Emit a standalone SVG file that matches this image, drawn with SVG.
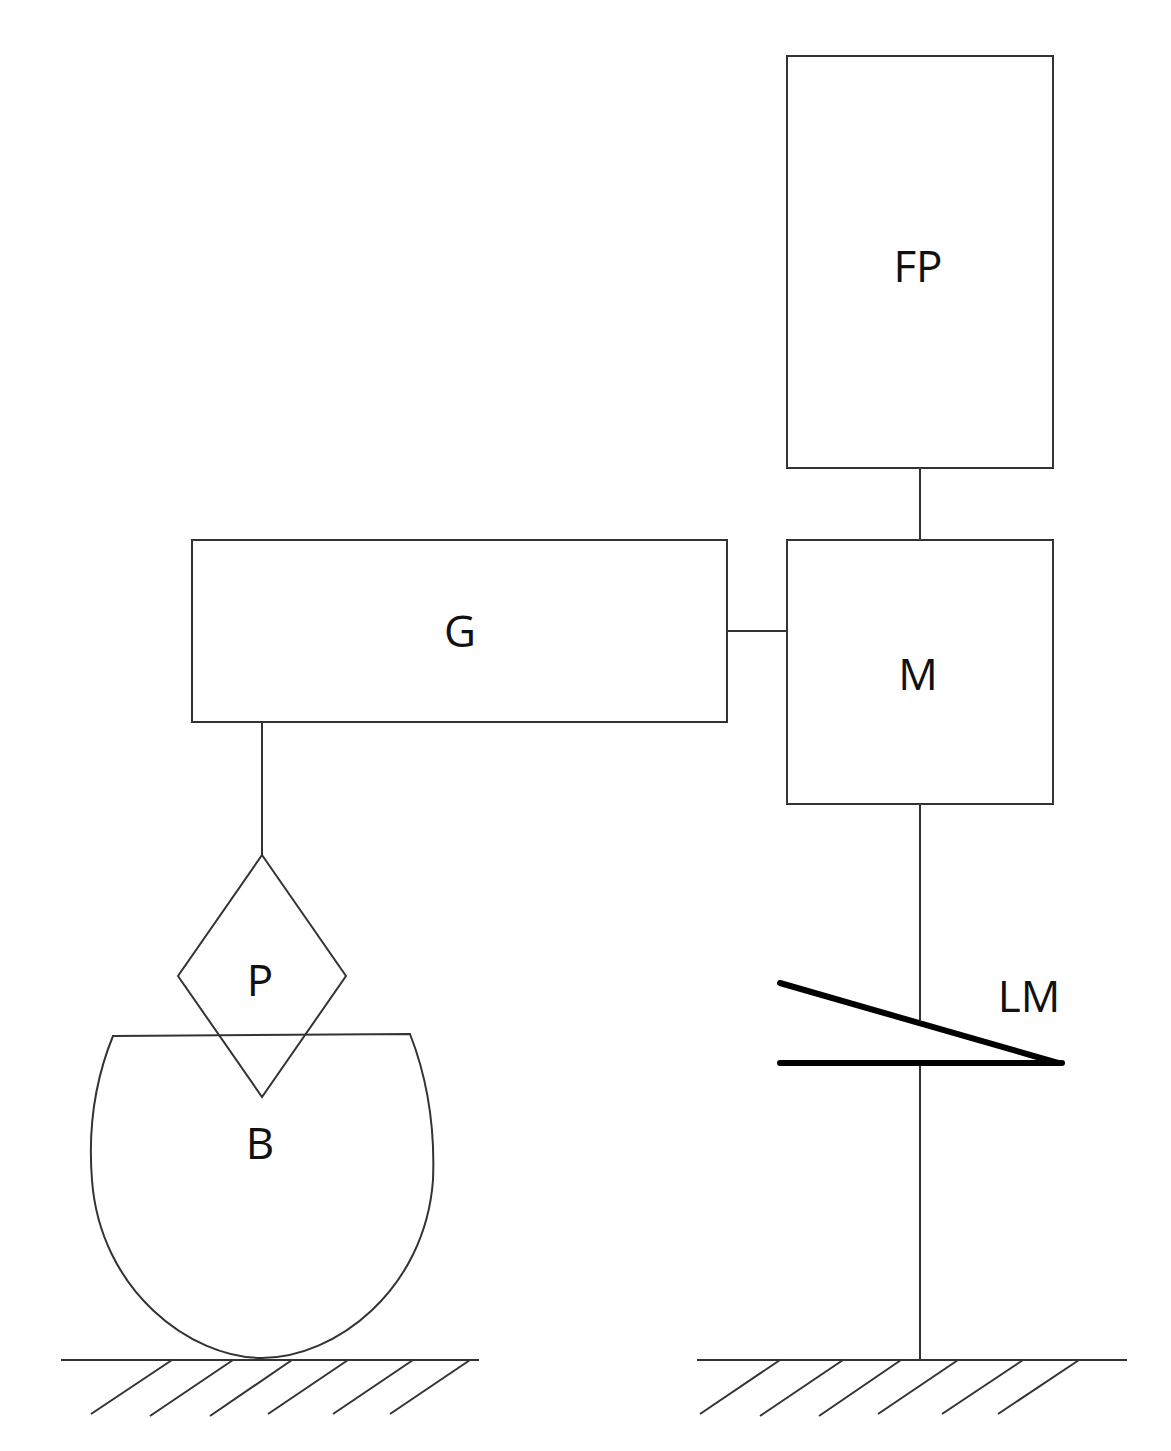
<svg xmlns="http://www.w3.org/2000/svg" width="1171" height="1451" viewBox="0 0 1171 1451">
<style>
.s{fill:none;stroke:#333;stroke-width:2}
.b{fill:#fff;stroke:#333;stroke-width:2}
.t{font-family:"Open Sans",sans-serif;font-size:44px;fill:#111;text-anchor:middle;dominant-baseline:central}
.k{stroke:#000;stroke-width:6;stroke-linecap:round}
.h{stroke:#333;stroke-width:2}
</style>
<g id="connectors">
<line class="s" x1="920" y1="468" x2="920" y2="540"/>
<line class="s" x1="727" y1="631" x2="787" y2="631"/>
<line class="s" x1="262" y1="722" x2="262" y2="855"/>
<line class="s" x1="920" y1="804" x2="920" y2="1020"/>
<line class="s" x1="920" y1="1063" x2="920" y2="1360"/>
</g>
<g id="ground-left">
<line class="h" x1="61" y1="1360" x2="479" y2="1360"/>
<line class="h" x1="172" y1="1360" x2="91" y2="1414"/>
<line class="h" x1="233" y1="1360" x2="150" y2="1416"/>
<line class="h" x1="292" y1="1360" x2="210" y2="1416"/>
<line class="h" x1="348" y1="1360" x2="268" y2="1414"/>
<line class="h" x1="413" y1="1360" x2="333" y2="1414"/>
<line class="h" x1="470" y1="1360" x2="390" y2="1414"/>
</g>
<g id="ground-right">
<line class="h" x1="697" y1="1360" x2="1127" y2="1360"/>
<line class="h" x1="780" y1="1360" x2="700" y2="1414"/>
<line class="h" x1="843" y1="1360" x2="760" y2="1416"/>
<line class="h" x1="901" y1="1360" x2="819" y2="1416"/>
<line class="h" x1="958" y1="1360" x2="878" y2="1414"/>
<line class="h" x1="1023" y1="1360" x2="942" y2="1414"/>
<line class="h" x1="1079" y1="1360" x2="998" y2="1414"/>
</g>
<g id="FP"><rect class="b" x="787" y="56" width="266" height="412"/><text class="t" x="918" y="265">FP</text></g>
<g id="G"><rect class="b" x="192" y="540" width="535" height="182"/><text class="t" x="460" y="630">G</text></g>
<g id="M"><rect class="b" x="787" y="540" width="266" height="264"/><text class="t" x="918" y="673">M</text></g>
<g id="B"><path class="s" d="M113,1036 L410,1034 C428,1080 435,1130 433,1180 C425,1290 335,1358 262,1358 C190,1358 100,1290 92,1180 C88,1130 95,1080 113,1036 Z"/><text class="t" x="260" y="1142">B</text></g>
<g id="P"><path class="s" d="M262,855 L346,976 L262,1097 L178,976 Z"/><text class="t" x="260" y="979">P</text></g>
<g id="LM">
<line class="k" x1="780" y1="983" x2="1058" y2="1063"/>
<line class="k" x1="780" y1="1063" x2="1062" y2="1063"/>
<text class="t" x="1029" y="995">LM</text>
</g>
</svg>
